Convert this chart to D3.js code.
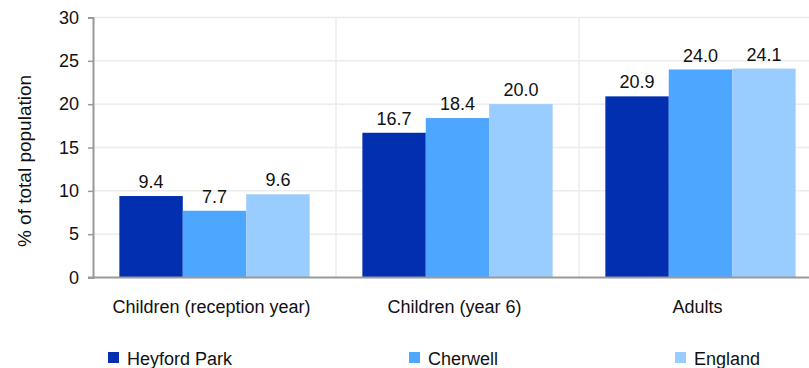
<!DOCTYPE html>
<html><head><meta charset="utf-8">
<script src="https://cdn.jsdelivr.net/npm/d3@7"></script>
<style>
html,body{margin:0;padding:0;background:#fff;overflow:hidden}
text{font-family:"Liberation Sans",Arial,sans-serif;fill:#111}
</style></head><body>
<svg id="c" width="809" height="368"></svg>
<script>
const categories = ["Children (reception year)", "Children (year 6)", "Adults"];
const seriesNames = ["Heyford Park", "Cherwell", "England"];
const heyfordPark = [9.4, 16.7, 20.9];
const cherwell = [7.7, 18.4, 24.0];
const england = [9.6, 20.0, 24.1];
const yTicks = [0, 5, 10, 15, 20, 25, 30];
const colors = ["#012fb0", "#4da6ff", "#99ccff"];
const seriesValues = [heyfordPark, cherwell, england];

(function () {
const svg = d3.select("#c");
const mLeft = 93, mRight = 822, mTop = 17.5, mBottom = 277.5;
const fs = 18;
const y = d3.scaleLinear().domain([0, 30]).range([mBottom, mTop]);
const x0 = d3.scaleBand().domain(categories).range([mLeft, mRight]).padding(0);
const bw = x0.bandwidth();
const groupW = bw * 0.783;
const x1 = d3.scaleBand().domain(seriesNames).range([(bw - groupW) / 2, (bw + groupW) / 2]).padding(0);

// horizontal gridlines
svg.append("g").selectAll("line").data(yTicks.filter(d => d > 0)).join("line")
  .attr("x1", mLeft).attr("x2", 809).attr("y1", d => y(d)).attr("y2", d => y(d))
  .attr("stroke", "#ececec").attr("stroke-width", 1.5);
// vertical category separators
svg.append("g").selectAll("line").data(categories.slice(1)).join("line")
  .attr("x1", d => x0(d)).attr("x2", d => x0(d)).attr("y1", mTop).attr("y2", mBottom)
  .attr("stroke", "#ececec").attr("stroke-width", 1.5);

// bars
categories.forEach((c, ci) => {
  seriesNames.forEach((s, si) => {
    const v = seriesValues[si][ci];
    const bx = x0(c) + x1(s);
    svg.append("rect").attr("x", bx).attr("y", y(v)).attr("width", x1.bandwidth()).attr("height", y(0) - y(v))
      .attr("fill", colors[si]);
    svg.append("text").attr("x", bx + x1.bandwidth() / 2).attr("y", y(v) - 8)
      .attr("text-anchor", "middle").attr("font-size", fs).text(v.toFixed(1));
  });
});

// y axis
const yAxis = d3.axisLeft(y).tickValues(yTicks).tickSize(5).tickPadding(9);
const gy = svg.append("g").attr("transform", `translate(${mLeft},0)`).call(yAxis);
gy.select(".domain").attr("stroke", "#999").attr("stroke-width", 2);
gy.selectAll(".tick line").attr("stroke", "#999").attr("stroke-width", 1.5);
gy.selectAll(".tick text").attr("font-size", fs).attr("font-family", "Liberation Sans, Arial, sans-serif").attr("fill", "#111");

// x axis baseline
svg.append("line").attr("x1", mLeft - 5).attr("x2", 809).attr("y1", y(0)).attr("y2", y(0))
  .attr("stroke", "#999").attr("stroke-width", 2);

// category labels
svg.append("g").selectAll("text").data(categories).join("text")
  .attr("x", d => x0(d) + bw / 2 - 3).attr("y", 313).attr("text-anchor", "middle")
  .attr("font-size", fs).text(d => d);

// y label
svg.append("text").attr("transform", "translate(31,161) rotate(-90)").attr("text-anchor", "middle")
  .attr("font-size", 19).text("% of total population");

// legend
const legX = [108, 409, 675];
seriesNames.forEach((s, i) => {
  svg.append("rect").attr("x", legX[i]).attr("y", 352).attr("width", 11).attr("height", 11).attr("fill", colors[i]);
  svg.append("text").attr("x", legX[i] + 19).attr("y", 365).attr("font-size", fs).text(s);
});
})();
</script>
</body></html>
